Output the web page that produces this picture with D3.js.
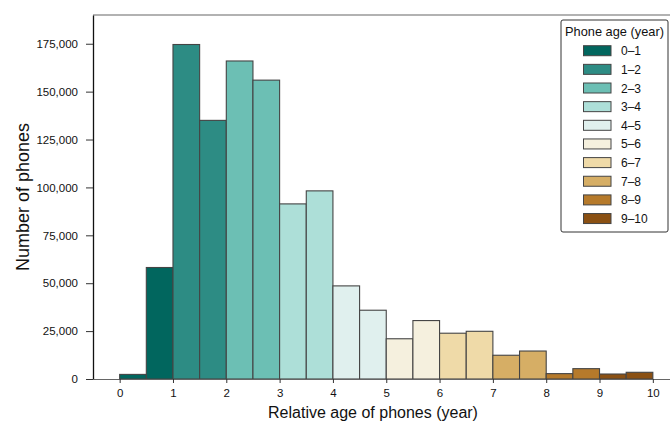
<!DOCTYPE html>
<html>
<head>
<meta charset="utf-8">
<script src="https://cdn.jsdelivr.net/npm/d3@7"></script>
<style>
  body { margin: 0; background: #fff; }
  svg { display: block; font-family: "Liberation Sans", Arial, Helvetica, sans-serif; }
</style>
</head>
<body>
<svg id="chart" width="670" height="423"></svg>
<script>
// Bin starts (years), bin width 0.5
const binStarts = [0, 0.5, 1, 1.5, 2, 2.5, 3, 3.5, 4, 4.5, 5, 5.5, 6, 6.5, 7, 7.5, 8, 8.5, 9, 9.5];
const counts = [2400, 58200, 174600, 135000, 166000, 156000, 91400, 98200, 48600, 35900,
                21000, 30500, 23900, 24900, 12400, 14600, 2800, 5400, 2600, 3500];
const ageGroups = ["0–1", "1–2", "2–3", "3–4", "4–5", "5–6", "6–7", "7–8", "8–9", "9–10"];
const groupColors = ["#01665e", "#2d8c84", "#6cbfb4", "#addfd8", "#e0f0ee",
                     "#f5f0de", "#efdaa8", "#d6ae65", "#b67a2b", "#8a5013"];
const xTicks = [0, 1, 2, 3, 4, 5, 6, 7, 8, 9, 10];
const yTicks = [0, 25000, 50000, 75000, 100000, 125000, 150000, 175000];
const binWidth = 0.5;

const svg = d3.select("#chart");
const x = d3.scaleLinear().domain([-0.5, 10.5]).range([93, 679.5]);
const y = d3.scaleLinear().domain([0, 190000]).range([379, 15]);
const color = d3.scaleOrdinal().domain(ageGroups).range(groupColors);

const data = binStarts.map((s, i) => ({ start: s, count: counts[i], group: ageGroups[Math.floor(s)] }));

// top frame line
svg.append("line").attr("x1", 93).attr("x2", 670).attr("y1", 15).attr("y2", 15)
  .attr("stroke", "#666").attr("stroke-width", 1.2);

// bars
svg.append("g").selectAll("rect").data(data).join("rect")
  .attr("x", d => x(d.start))
  .attr("y", d => y(d.count))
  .attr("width", d => x(d.start + binWidth) - x(d.start))
  .attr("height", d => y(0) - y(d.count))
  .attr("fill", d => color(d.group))
  .attr("stroke", "#444")
  .attr("stroke-width", 1.1);

// x axis
const xAxis = svg.append("g").attr("transform", "translate(0,379)")
  .call(d3.axisBottom(x).tickValues(xTicks).tickFormat(d3.format("d")).tickSize(4).tickSizeOuter(0));
xAxis.select(".domain").attr("stroke", "#666").attr("stroke-width", 1.2);
xAxis.selectAll(".tick line").attr("stroke", "#333");
xAxis.selectAll("text").attr("font-size", 11.5).attr("fill", "#111").attr("y", 10).attr("dy", "0.71em")
  .style("font-family", "Liberation Sans, Arial, sans-serif");

// y axis
const yAxis = svg.append("g").attr("transform", "translate(93,0)")
  .call(d3.axisLeft(y).tickValues(yTicks).tickFormat(d3.format(",")).tickSize(7).tickSizeOuter(0));
yAxis.select(".domain").attr("stroke", "#111").attr("stroke-width", 1.3);
yAxis.selectAll(".tick line").attr("stroke", "#333");
yAxis.selectAll("text").attr("font-size", 11.5).attr("fill", "#111").attr("x", -15)
  .style("font-family", "Liberation Sans, Arial, sans-serif");

// axis titles
svg.append("text").attr("x", 373).attr("y", 418).attr("text-anchor", "middle")
  .attr("font-size", 16).attr("fill", "#111").text("Relative age of phones (year)");
svg.append("text").attr("transform", "translate(29,197) rotate(-90)").attr("text-anchor", "middle")
  .attr("font-size", 18).attr("fill", "#111").text("Number of phones");

// legend
const lg = svg.append("g").attr("transform", "translate(561,20)");
lg.append("rect").attr("x", 0).attr("y", 0).attr("width", 107).attr("height", 212)
  .attr("rx", 2).attr("fill", "#fff").attr("stroke", "#333").attr("stroke-width", 1);
lg.append("text").attr("x", 53.5).attr("y", 16).attr("text-anchor", "middle")
  .attr("font-size", 12.8).attr("fill", "#111").text("Phone age (year)");
const items = lg.selectAll("g.item").data(ageGroups).join("g").attr("class", "item")
  .attr("transform", (d, i) => `translate(0,${30.7 + i * 18.65})`);
items.append("rect").attr("x", 22.5).attr("y", -5).attr("width", 27.5).attr("height", 10)
  .attr("fill", d => color(d)).attr("stroke", "#444").attr("stroke-width", 1);
items.append("text").attr("x", 60).attr("y", 4.5).attr("font-size", 12).attr("fill", "#111").text(d => d);
</script>
</body>
</html>
